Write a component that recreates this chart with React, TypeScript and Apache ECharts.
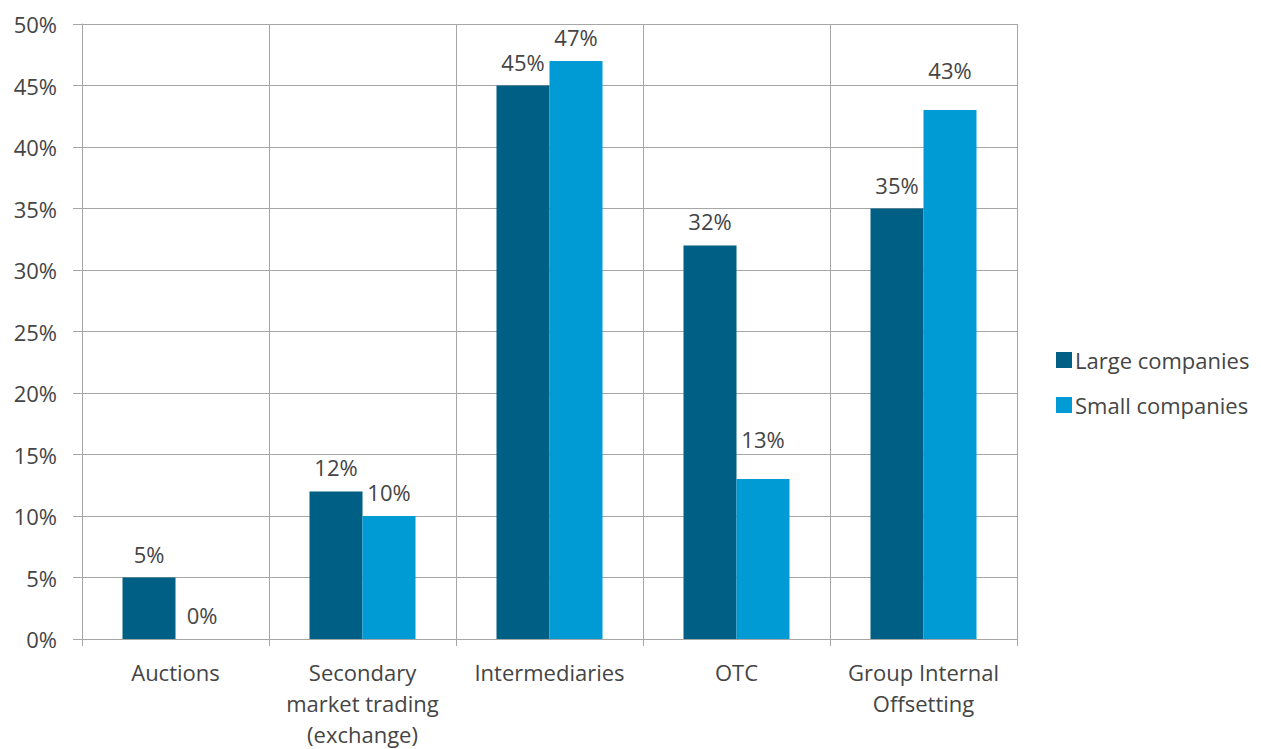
import React, { useEffect, useRef } from "react";
import * as echarts from "echarts";

const categories = [
  "Auctions",
  "Secondary\nmarket trading\n(exchange)",
  "Intermediaries",
  "OTC",
  "Group Internal\nOffsetting",
];
const largeCompanies = [5, 12, 45, 32, 35];
const smallCompanies = [0, 10, 47, 13, 43];
const smallLabelOffsets = [0, 0, 0, 16, 16];
const yTicks = [0, 5, 10, 15, 20, 25, 30, 35, 40, 45, 50];

const FONT = "'Open Sans', 'Noto Sans', sans-serif";
const TEXT = "#454545";
const GRID = "#a6a6a6";
const FS = 22;

export default function App() {
  const ref = useRef<HTMLDivElement>(null);
  useEffect(() => {
    document.body.style.margin = "0";
    if (!ref.current) return;
    const chart = echarts.init(ref.current, undefined, { renderer: "svg" });
    chart.setOption({
      animation: false,
      textStyle: { fontFamily: FONT },
      grid: { left: 82, right: 244, top: 24, bottom: 106, containLabel: false },
      legend: {
        orient: "vertical",
        left: 1051,
        top: 344,
        padding: 5,
        itemWidth: 16,
        itemHeight: 16,
        itemGap: 23,
        icon: "rect",
        textStyle: { fontFamily: FONT, fontSize: FS, color: TEXT, padding: [0, 0, 0, -2] },
        data: ["Large companies", "Small companies"],
      },
      xAxis: {
        type: "category",
        data: categories,
        boundaryGap: true,
        axisLine: { lineStyle: { color: GRID, width: 1 } },
        axisTick: { show: true, length: 7, lineStyle: { color: GRID } },
        splitLine: { show: true, lineStyle: { color: GRID, width: 1 } },
        axisLabel: {
          fontFamily: FONT,
          fontSize: FS,
          color: TEXT,
          lineHeight: 31,
          margin: 17,
          interval: 0,
        },
      },
      yAxis: {
        type: "value",
        min: yTicks[0],
        max: yTicks[yTicks.length - 1],
        interval: 5,
        axisLine: { show: true, lineStyle: { color: GRID, width: 1 } },
        axisTick: { show: true, length: 9, lineStyle: { color: GRID } },
        splitLine: { show: true, lineStyle: { color: GRID, width: 1 } },
        axisLabel: {
          fontFamily: FONT,
          fontSize: FS,
          color: TEXT,
          margin: 25,
          formatter: (v: number) => `${v}%`,
        },
      },
      series: [
        {
          name: "Large companies",
          type: "bar",
          data: largeCompanies,
          barWidth: 53,
          barGap: "0%",
          itemStyle: { color: "#005f84" },
          label: {
            show: true,
            position: "top",
            distance: 13,
            fontFamily: FONT,
            fontSize: FS,
            color: TEXT,
            formatter: "{c}%",
          },
        },
        {
          name: "Small companies",
          type: "bar",
          data: smallCompanies.map((v, i) => ({
            value: v,
            label: { distance: 13 + smallLabelOffsets[i] },
          })),
          barWidth: 53,
          barGap: "0%",
          itemStyle: { color: "#009bd5" },
          label: {
            show: true,
            position: "top",
            distance: 13,
            fontFamily: FONT,
            fontSize: FS,
            color: TEXT,
            formatter: "{c}%",
          },
        },
      ],
    });
    return () => chart.dispose();
  }, []);
  return <div ref={ref} style={{ width: 1261, height: 749 }} />;
}
